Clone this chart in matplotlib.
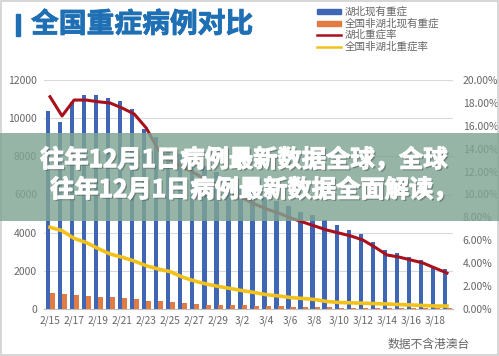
import matplotlib
matplotlib.use('Agg')
import matplotlib.pyplot as plt
import matplotlib.patheffects as pe
from matplotlib.patches import Rectangle

plt.rcParams['font.family'] = ['Noto Sans CJK SC', 'DejaVu Sans']

dates = ['2/15', '2/16', '2/17', '2/18', '2/19', '2/20', '2/21', '2/22', '2/23', '2/24',
         '2/25', '2/26', '2/27', '2/28', '2/29', '3/1', '3/2', '3/3', '3/4', '3/5',
         '3/6', '3/7', '3/8', '3/9', '3/10', '3/11', '3/12', '3/13', '3/14', '3/15',
         '3/16', '3/17', '3/18', '3/19']
hubei_severe = [10384, 9805, 10842, 11226, 11210, 11036, 10910, 10474, 9421, 8999,
                8481, 8134, 7831, 7476, 7186, 6858, 6513, 6174, 5890, 5664,
                5379, 5068, 4947, 4658, 4384, 4158, 3932, 3500, 3105, 2932,
                2721, 2542, 2184, 2079]
other_severe = [858, 789, 754, 684, 649, 614, 561, 526, 421, 421,
                368, 333, 263, 228, 228, 193, 193, 170, 150, 135,
                120, 110, 100, 85, 75, 70, 65, 60, 55, 50,
                45, 40, 35, 35]
hubei_rate = [18.54, 16.86, 18.25, 18.25, 18.10, 17.99, 17.55, 17.03, 15.81, 13.89,
              13.01, 12.40, 11.88, 11.27, 10.74, 10.22, 9.69, 9.17, 8.73, 8.38,
              7.95, 7.60, 7.25, 6.90, 6.64, 6.38, 6.03, 5.41, 4.72, 4.54,
              4.28, 4.02, 3.58, 3.14]
other_rate = [7.14, 6.84, 6.17, 5.81, 5.28, 4.80, 4.52, 4.19, 3.78, 3.49,
              3.26, 2.79, 2.45, 2.18, 1.97, 1.79, 1.60, 1.44, 1.25, 1.14,
              1.00, 0.92, 0.83, 0.66, 0.57, 0.54, 0.51, 0.47, 0.44, 0.39,
              0.35, 0.31, 0.26, 0.26]

BLUE = '#3f66b4'
ORANGE = '#e07b45'
RED = '#a8101c'
YELLOW = '#f2c21b'
GRAY = '#666666'

fig = plt.figure(figsize=(4.99, 3.56), dpi=100)
ax = fig.add_axes([44 / 499, 1 - 309 / 356, 409 / 499, 229 / 356])
ax2 = ax.twinx()

x = list(range(len(dates)))
ax.bar([i - 0.17 for i in x], hubei_severe, width=0.36, color=BLUE, zorder=2)
ax.bar([i + 0.2 for i in x], other_severe, width=0.42, color=ORANGE, zorder=2)
ax.set_xlim(-0.5, len(dates) - 0.5)
ax.set_ylim(0, 12000)
ax.set_yticks(range(0, 12001, 2000))
ax.grid(axis='y', color='#d9d9d9', lw=0.8, zorder=0)
ax.set_xticks(x[::2])
ax.set_xticklabels(dates[::2])

ax2.plot(x, hubei_rate, color=RED, lw=2.2, zorder=3)
ax2.plot(x, other_rate, color=YELLOW, lw=2.6, zorder=3)
ax2.set_ylim(0, 20)
ax2.set_yticks(range(0, 21, 2))
ax2.set_yticklabels(['%.2f%%' % v for v in range(0, 21, 2)])

for a in (ax, ax2):
    for s in a.spines.values():
        s.set_visible(False)
    a.tick_params(length=0, labelsize=7.5, colors=GRAY)
ax.spines['bottom'].set_visible(True)
ax.spines['bottom'].set_color('#bfbfbf')
ax.tick_params(axis='x', pad=5, labelsize=7.3)
ax.tick_params(axis='y', pad=5)
ax2.tick_params(axis='y', pad=7)

# title
fig.add_artist(Rectangle((16 / 499, 1 - 36 / 356), 3.5 / 499, 22 / 356, color='#1f6fb4',
                         transform=fig.transFigure))
fig.text(31 / 499, 1 - 24.5 / 356, '全国重症病例对比', fontsize=20, fontweight='bold',
         color='#1f6fb4', va='center', ha='left',
         path_effects=[pe.Stroke(linewidth=0.6, foreground='#1f6fb4'), pe.Normal()])

# legend
leg_items = [('湖北现有重症', BLUE, 'bar'), ('全国非湖北现有重症', ORANGE, 'bar'),
             ('湖北重症率', RED, 'line'), ('全国非湖北重症率', YELLOW, 'line')]
for k, (lab, col, kind) in enumerate(leg_items):
    yy = 1 - (11.7 + 11.6 * k) / 356
    if kind == 'bar':
        fig.patches.append(Rectangle((317 / 499, yy - 2.5 / 356), 24 / 499, 5 / 356,
                                     color=col, transform=fig.transFigure))
    else:
        fig.add_artist(plt.Line2D([317 / 499, 341 / 499], [yy, yy], color=col, lw=1.8,
                                  transform=fig.transFigure))
    fig.text(345 / 499, yy, lab, fontsize=7.6, color=GRAY, va='center', ha='left')

fig.text(470 / 499, 1 - 344 / 356, '数据不含港澳台', fontsize=8.5, color=GRAY,
         va='center', ha='right')

# overlay banner
fig.patches.append(Rectangle((0, 1 - 221 / 356), 1, 88 / 356, facecolor='#7fa594',
                             alpha=0.82, edgecolor='none', transform=fig.transFigure,
                             zorder=5))
heavy = [pe.SimplePatchShadow(offset=(1.2, -1.2), shadow_rgbFace='#3a3a3a', alpha=0.4),
         pe.Stroke(linewidth=0.8, foreground='white'), pe.Normal()]
fig.text(40 / 499, 1 - 160 / 356, '往年12月1日病例最新数据全球，全球', fontsize=17.5,
         fontweight='bold', color='white', va='center', ha='left', zorder=6,
         path_effects=heavy)
fig.text(50 / 499, 1 - 190 / 356, '往年12月1日病例最新数据全面解读，', fontsize=17.5,
         fontweight='bold', color='white', va='center', ha='left', zorder=6,
         path_effects=heavy)

# outer frame
fig.patches.append(Rectangle((0.002, 0.003), 0.995, 0.994, fill=False, edgecolor='#d0d0d0',
                             lw=1.2, transform=fig.transFigure))

fig.savefig('out.png', dpi=100)
